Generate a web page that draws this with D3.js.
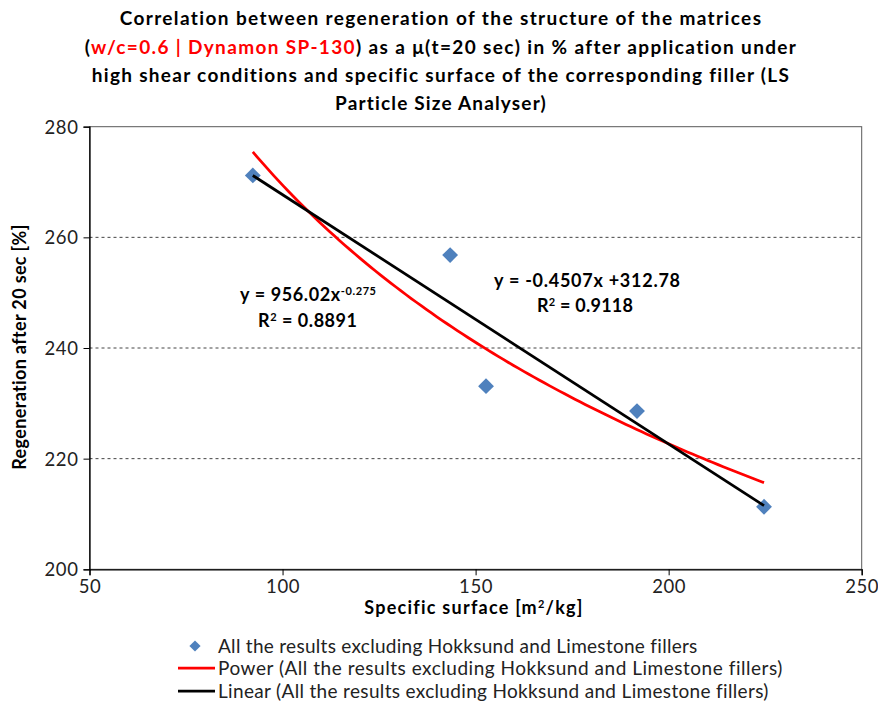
<!DOCTYPE html>
<html>
<head>
<meta charset="utf-8">
<script src="https://cdn.jsdelivr.net/npm/d3@7"></script>
<style>
  html, body { margin: 0; padding: 0; background: #fff; }
  svg { display: block; font-family: Lato, "Open Sans", sans-serif; }
</style>
</head>
<body>
<svg id="chart" width="878" height="711"></svg>
<script>
// Measured points: specific surface [m²/kg] vs regeneration after 20 s [%]
const surface = [92.3, 143.4, 152.7, 191.8, 224.7];
const regeneration = [271.2, 256.8, 233.1, 228.6, 211.3];

// Trend line coefficients (as printed on the chart)
const powerFit = { a: 956.02, b: -0.275, r2: 0.8891 };
const linearFit = { slope: -0.4507, intercept: 312.78, r2: 0.9118 };

const xTicks = [50, 100, 150, 200, 250];
const yTicks = [200, 220, 240, 260, 280];
const gridValues = [220, 240, 260];

const seriesName = "All the results excluding Hokksund and Limestone fillers";
const legendLabels = [
  seriesName,
  "Power (" + seriesName + ")",
  "Linear (" + seriesName + ")"
];

const svg = d3.select("#chart");
const margin = { left: 89.5, right: 878 - 861.7, top: 126.7, bottom: 711 - 569.3 };
const W = 878, H = 711;

const x = d3.scaleLinear().domain([50, 250]).range([margin.left, W - margin.right]);
const y = d3.scaleLinear().domain([200, 280]).range([H - margin.bottom, margin.top]);

// Stretch a text's letter spacing so its run spans the given width
function spread(sel, width) {
  sel.each(function () {
    const node = this;
    const n = node.textContent.length;
    const w = node.getBBox().width;
    if (n > 1) d3.select(node).attr("letter-spacing", ((width - w) / (n - 1)).toFixed(3));
  });
}

// Title
const titleLines = [
  [{ t: "Correlation between regeneration of the structure of the matrices", c: "#000" }],
  [{ t: "(", c: "#000" }, { t: "w/c=0.6 | Dynamon SP-130", c: "#ff0000" },
   { t: ") as a \u03bc(t=20 sec) in % after application under", c: "#000" }],
  [{ t: "high shear conditions and specific surface of the corresponding filler (LS", c: "#000" }],
  [{ t: "Particle Size Analyser)", c: "#000" }]
];
const titleY = [25, 54, 82, 110];
const titleW = [642, 712, 697, 211];
const title = svg.append("g");
titleLines.forEach((parts, i) => {
  const t = title.append("text")
    .attr("x", 441).attr("y", titleY[i])
    .attr("text-anchor", "middle")
    .attr("font-weight", "bold")
    .attr("font-size", 19);
  parts.forEach(p => t.append("tspan").attr("fill", p.c).text(p.t));
  spread(t, titleW[i]);
});

// Plot frame
svg.append("rect")
  .attr("x", x(50)).attr("y", y(280))
  .attr("width", x(250) - x(50)).attr("height", y(200) - y(280))
  .attr("fill", "none").attr("stroke", "#595959").attr("stroke-width", 1);

// Dashed gridlines
svg.append("g").selectAll("line").data(gridValues).join("line")
  .attr("x1", x(50)).attr("x2", x(250))
  .attr("y1", d => y(d)).attr("y2", d => y(d))
  .attr("stroke", "#444").attr("stroke-width", 1)
  .attr("stroke-dasharray", "3,3");

// Axes
const xAxis = d3.axisBottom(x).tickValues(xTicks).tickSize(6).tickPadding(5).tickFormat(d3.format("d"));
const yAxis = d3.axisLeft(y).tickValues(yTicks).tickSize(6).tickPadding(5).tickFormat(d3.format("d"));

const gx = svg.append("g").attr("transform", `translate(0,${y(200)})`).call(xAxis);
const gy = svg.append("g").attr("transform", `translate(${x(50)},0)`).call(yAxis);
[gx, gy].forEach(g => {
  g.select(".domain").attr("stroke", "#000").attr("stroke-width", 1.3);
  g.selectAll(".tick line").attr("stroke", "#000");
  g.selectAll(".tick text").attr("font-size", 18.5).attr("fill", "#222")
    .attr("font-family", "Lato, sans-serif").attr("letter-spacing", 0.6);
});
gy.selectAll(".tick text").attr("dy", "0.35em");

// Axis titles
const xTitle = svg.append("text")
  .attr("x", 474).attr("y", 614)
  .attr("text-anchor", "middle").attr("font-weight", "bold").attr("font-size", 18)
  .html("Specific surface [m<tspan baseline-shift='super' font-size='11'>2</tspan>/kg]");
spread(xTitle, 218);
const yTitle = svg.append("text")
  .attr("transform", `translate(26,347) rotate(-90)`)
  .attr("text-anchor", "middle").attr("font-weight", "bold").attr("font-size", 18)
  .text("Regeneration after 20 sec [%]");
spread(yTitle, 245);

// Trend lines over the data range
const xMin = d3.min(surface), xMax = d3.max(surface);
const powerPts = d3.range(0, 101).map(i => {
  const xv = xMin + (xMax - xMin) * i / 100;
  return [xv, powerFit.a * Math.pow(xv, powerFit.b)];
});
const linearPts = [xMin, xMax].map(xv => [xv, linearFit.slope * xv + linearFit.intercept]);
const line = d3.line().x(d => x(d[0])).y(d => y(d[1]));

svg.append("path").datum(powerPts).attr("d", line)
  .attr("fill", "none").attr("stroke", "#ff0000").attr("stroke-width", 2.75);

// Markers
const diamond = d3.symbol().type(d3.symbolDiamond2).size(160);
svg.append("g").selectAll("path").data(surface.map((s, i) => [s, regeneration[i]])).join("path")
  .attr("transform", d => `translate(${x(d[0])},${y(d[1])})`)
  .attr("d", diamond).attr("fill", "#4f81bd");

svg.append("path").datum(linearPts).attr("d", line)
  .attr("fill", "none").attr("stroke", "#000").attr("stroke-width", 2.75);

// Equation labels
const eq = svg.append("g").attr("font-weight", "bold").attr("font-size", 18).attr("fill", "#000");
const e1 = eq.append("text").attr("x", 240).attr("y", 301)
  .html(`y = ${powerFit.a.toFixed(2)}x<tspan baseline-shift='super' font-size='11'>${powerFit.b}</tspan>`);
spread(e1, 136);
const e2 = eq.append("text").attr("x", 258).attr("y", 327)
  .html(`R<tspan baseline-shift='super' font-size='11'>2</tspan> = ${powerFit.r2}`);
spread(e2, 99);
const e3 = eq.append("text").attr("x", 494).attr("y", 287)
  .text(`y = ${linearFit.slope}x +${linearFit.intercept}`);
spread(e3, 186);
const e4 = eq.append("text").attr("x", 537).attr("y", 312)
  .html(`R<tspan baseline-shift='super' font-size='11'>2</tspan> = ${linearFit.r2}`);
spread(e4, 96);

// Legend
const legend = svg.append("g").attr("font-size", 19).attr("fill", "#222");
const legY = [646, 668, 691];
const legW = [479, 564, 550];
legend.append("path").attr("transform", `translate(195,${legY[0]})`)
  .attr("d", d3.symbol().type(d3.symbolDiamond2).size(80)).attr("fill", "#4f81bd");
legend.append("line").attr("x1", 178).attr("x2", 215).attr("y1", legY[1]).attr("y2", legY[1])
  .attr("stroke", "#ff0000").attr("stroke-width", 2.75);
legend.append("line").attr("x1", 178).attr("x2", 215).attr("y1", legY[2]).attr("y2", legY[2])
  .attr("stroke", "#000").attr("stroke-width", 2.75);
legendLabels.forEach((lab, i) => {
  const t = legend.append("text").attr("x", 218).attr("y", legY[i]).attr("dy", "0.35em").text(lab);
  spread(t, legW[i]);
});
</script>
</body>
</html>
